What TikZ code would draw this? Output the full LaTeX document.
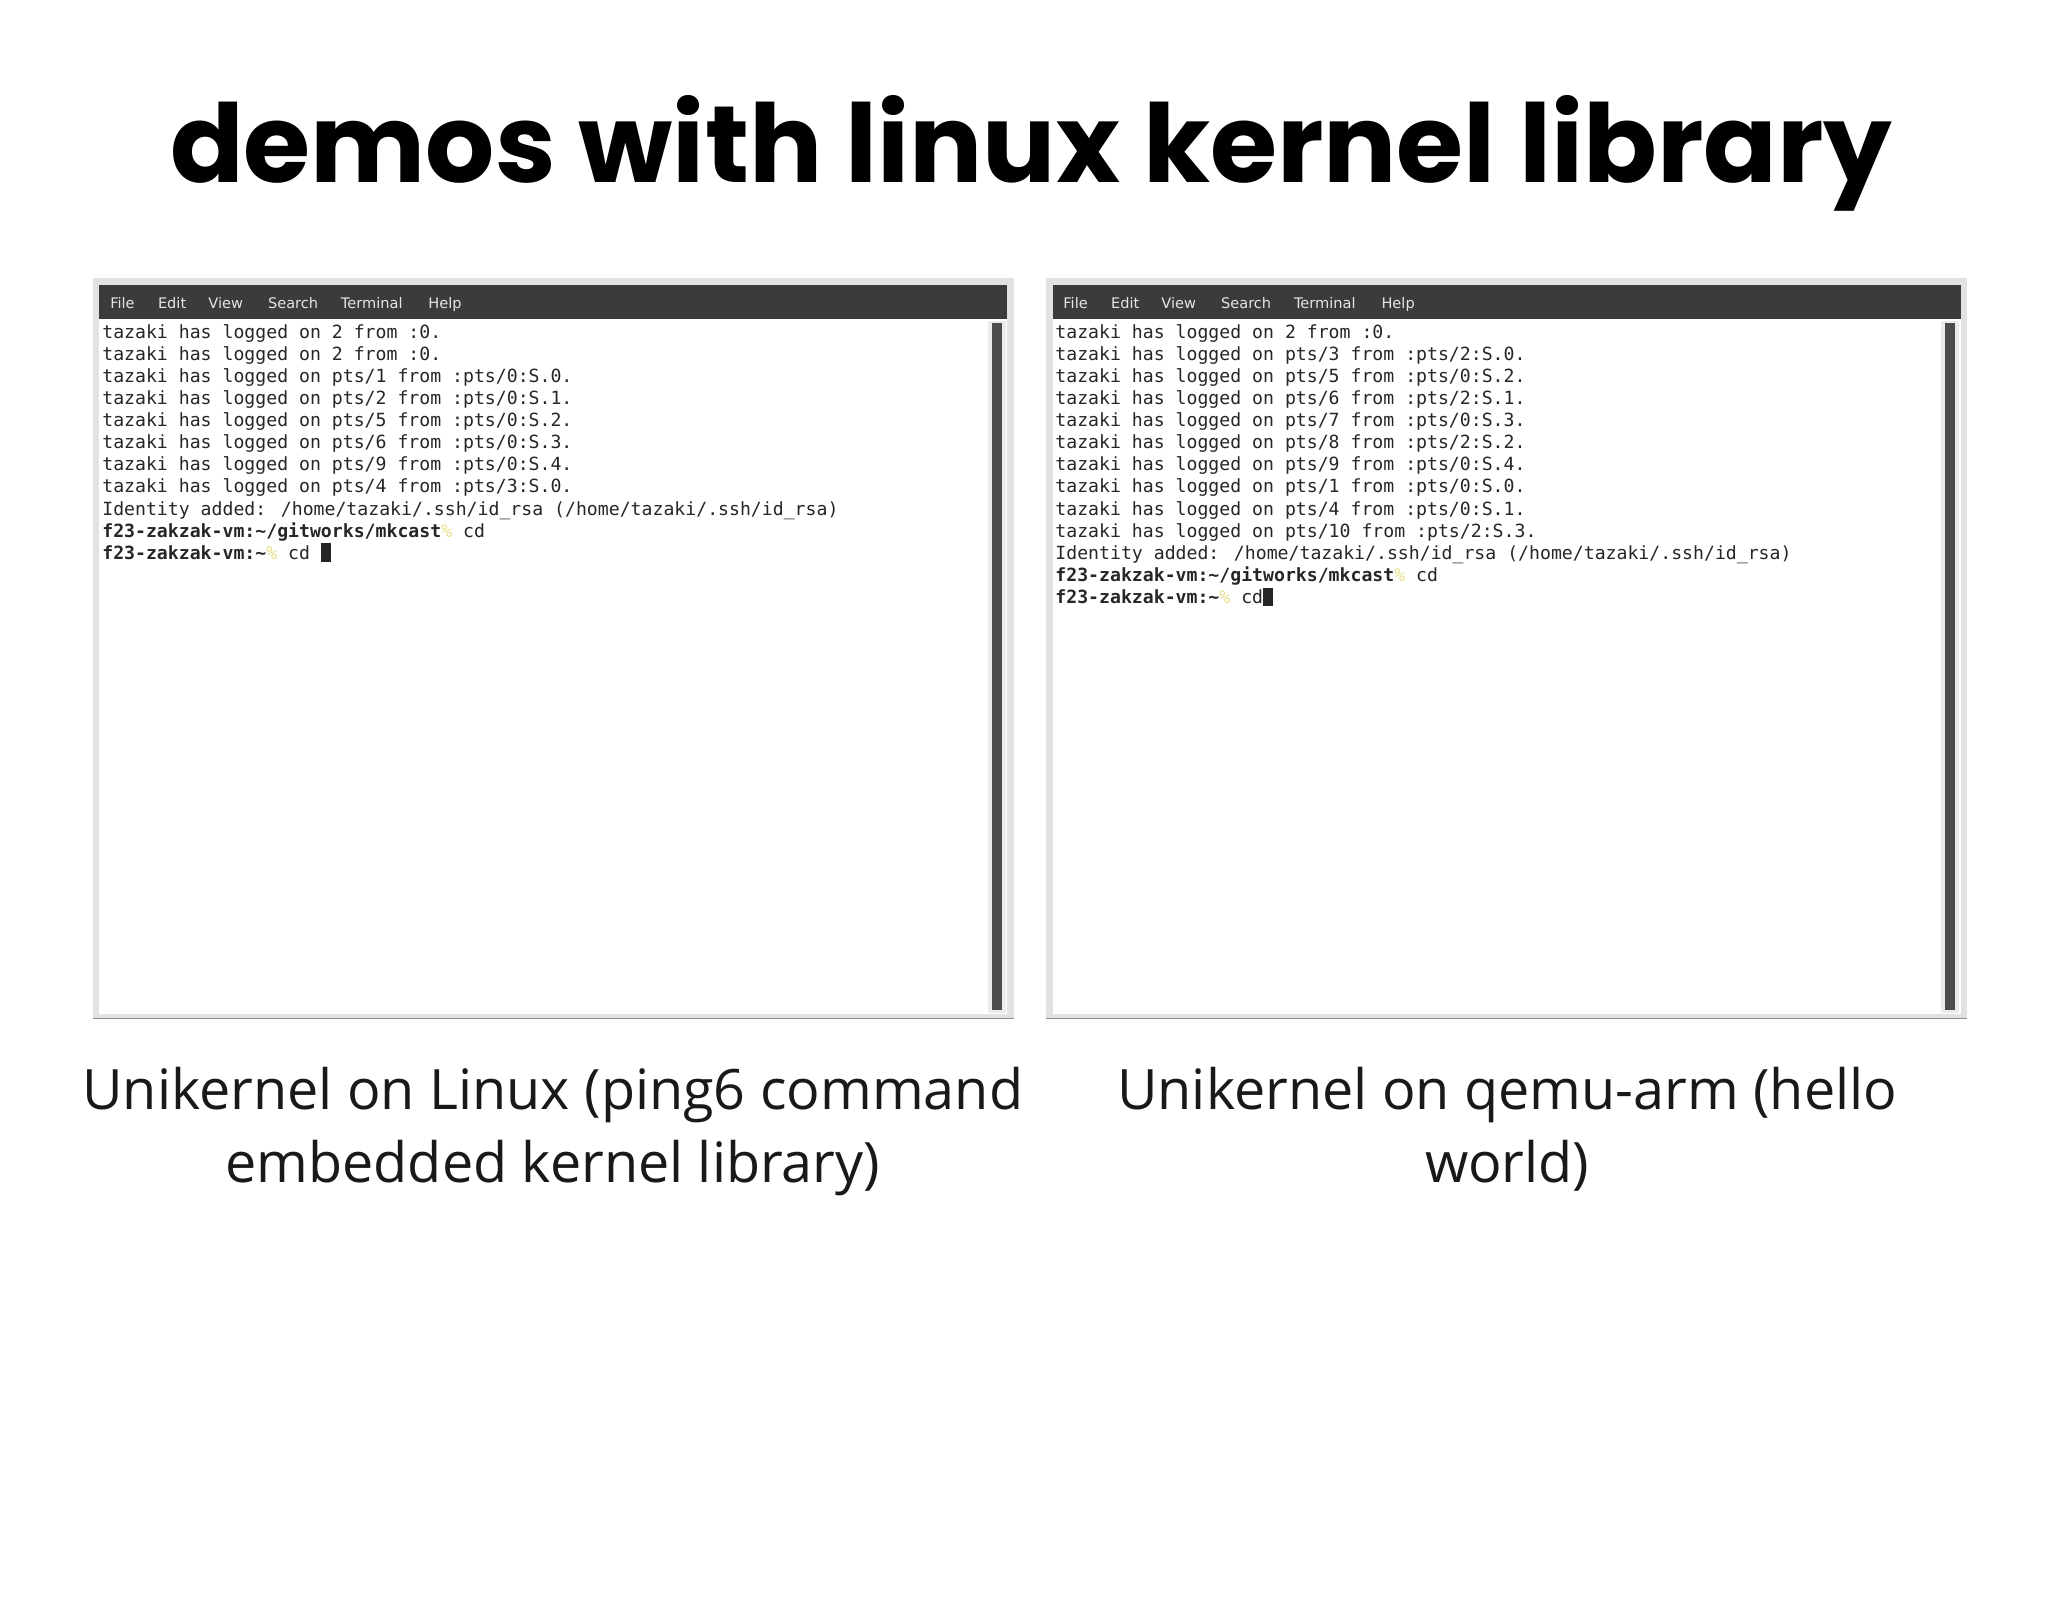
\documentclass[tikz,border=0pt]{standalone}
\usepackage{fontspec}
\setmainfont{Open Sans}
\newfontfamily\titlefont{Poppins}[UprightFont=* Bold]
\newfontfamily\monofont{DejaVu Sans Mono}
\newfontfamily\menufont{DejaVu Sans}
\definecolor{bar}{HTML}{3A3C3C}
\definecolor{frame}{HTML}{E2E2E2}
\definecolor{prm}{HTML}{E8E08A}
\begin{document}
\begin{tikzpicture}[x=1pt,y=-1pt,
  tl/.style={anchor=base west,inner sep=0pt,font=\monofont\fontsize{13.7}{14}\selectfont,text=black!85},
  mn/.style={anchor=base west,inner sep=0pt,font=\menufont\fontsize{11}{12}\selectfont,text=white!90!black},
  captxt/.style={align=center,inner sep=0pt,font=\fontsize{42}{55}\selectfont,text=black!90}]
\fill[white] (0,0) rectangle (1545,1206);
\useasboundingbox (0,0) rectangle (1545,1206);
\node[font=\titlefont\fontsize{82}{86}\selectfont,anchor=base] (title) at (778,138) {demos with linux kernel library};
% windows
\foreach \ox/\nm in {0/L,719/R}{
  \begin{scope}[shift={(\ox,0)}]
  \fill[frame] (70,210) rectangle (765,768);
  \fill[bar] (75,215) rectangle (760,241);
  \fill[white] (75,241) rectangle (760,765);
  \fill[white!92!black] (745,242) rectangle (759,764);
  \fill[black!70] (748,244) rectangle (756,762);
  \draw[black!45] (70,768.5) -- (765,768.5);
  \node[mn] (f\nm) at (83,233) {File};
  \node[mn] (e\nm) at (119,233) {Edit};
  \node[mn] (v\nm) at (157,233) {View};
  \node[mn] (s\nm) at (202,233) {Search};
  \node[mn] (t\nm) at (257,233) {Terminal};
  \node[mn] (h\nm) at (323,233) {Help};
  \end{scope}}
% left text
\foreach \i/\t in {0/{tazaki has logged on 2 from :0.},1/{tazaki has logged on 2 from :0.},2/{tazaki has logged on pts/1 from :pts/0:S.0.},3/{tazaki has logged on pts/2 from :pts/0:S.1.},4/{tazaki has logged on pts/5 from :pts/0:S.2.},5/{tazaki has logged on pts/6 from :pts/0:S.3.},6/{tazaki has logged on pts/9 from :pts/0:S.4.},7/{tazaki has logged on pts/4 from :pts/3:S.0.},8/{Identity added: /home/tazaki/.ssh/id\_rsa (/home/tazaki/.ssh/id\_rsa)}}
  \node[tl] (l\i) at (77,255+16.7*\i) {\t};
\node[tl] (l9) at (77,405.3) {\textbf{f23-zakzak-vm:\textasciitilde/gitworks/mkcast}\textcolor{prm}{\%} cd};
\node[tl] (l10) at (77,422) {\textbf{f23-zakzak-vm:\textasciitilde}\textcolor{prm}{\%} cd \rule[-2pt]{7.5pt}{14pt}};
% right text
\foreach \i/\t in {0/{tazaki has logged on 2 from :0.},1/{tazaki has logged on pts/3 from :pts/2:S.0.},2/{tazaki has logged on pts/5 from :pts/0:S.2.},3/{tazaki has logged on pts/6 from :pts/2:S.1.},4/{tazaki has logged on pts/7 from :pts/0:S.3.},5/{tazaki has logged on pts/8 from :pts/2:S.2.},6/{tazaki has logged on pts/9 from :pts/0:S.4.},7/{tazaki has logged on pts/1 from :pts/0:S.0.},8/{tazaki has logged on pts/4 from :pts/0:S.1.},9/{tazaki has logged on pts/10 from :pts/2:S.3.},10/{Identity added: /home/tazaki/.ssh/id\_rsa (/home/tazaki/.ssh/id\_rsa)}}
  \node[tl] (r\i) at (796,255+16.7*\i) {\t};
\node[tl] (r11) at (796,438.7) {\textbf{f23-zakzak-vm:\textasciitilde/gitworks/mkcast}\textcolor{prm}{\%} cd};
\node[tl] (r12) at (796,455.4) {\textbf{f23-zakzak-vm:\textasciitilde}\textcolor{prm}{\%} cd\rule[-2pt]{7.5pt}{14pt}};
\node[captxt,anchor=north] (capL) at (417,805) {Unikernel on Linux (ping6 command\\embedded kernel library)};
\node[captxt,anchor=north] (capR) at (1137,805) {Unikernel on qemu-arm (hello\\world)};
\end{tikzpicture}
\end{document}
